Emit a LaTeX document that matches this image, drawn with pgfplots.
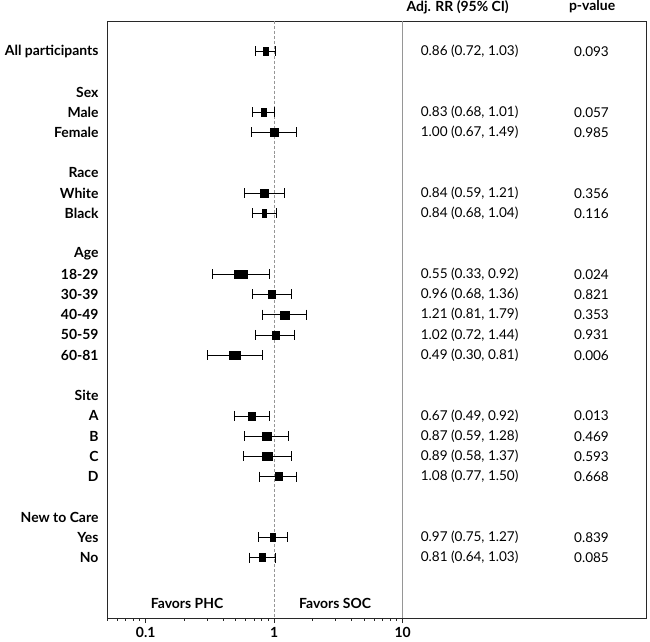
\documentclass[border=0pt]{standalone}
\usepackage{fontspec}
\setmainfont{Lato}
\usepackage{pgfplots}
\pgfplotsset{compat=1.18}
\usepackage{pgfplotstable}

\pgfplotstableread{
k est lo hi w
0 0.86 0.72 1.03 4.3
3 0.83 0.68 1.01 4.3
4 1.00 0.67 1.49 7.3
7 0.84 0.59 1.21 8.3
8 0.84 0.68 1.04 4.3
11 0.55 0.33 0.92 12.3
12 0.96 0.68 1.36 7.3
13 1.21 0.81 1.79 9.0
14 1.02 0.72 1.44 7.0
15 0.49 0.30 0.81 11.3
18 0.67 0.49 0.92 7.0
19 0.87 0.59 1.28 8.7
20 0.89 0.58 1.37 10.0
21 1.08 0.77 1.50 7.3
24 0.97 0.75 1.27 5.3
25 0.81 0.64 1.03 6.0
}\forestdata

\definecolor{refgray}{RGB}{150,150,150}
\definecolor{framecol}{RGB}{40,40,40}

\newcommand{\rg}{\fontsize{13.6}{16}\selectfont}
\newcommand{\bd}{\fontsize{14}{16}\selectfont\bfseries}
\newcommand{\row}[3]{%
  \node[anchor=west, inner sep=0pt, font=\rg] at (axis cs:13.8,#1) {#2};
  \node[inner sep=0pt, font=\rg] at (axis cs:295,#1) {#3};}

\begin{document}
\begin{tikzpicture}[font=\rg]
\useasboundingbox (-107bp,-24bp) rectangle (543bp,618bp);
\begin{axis}[
  scale only axis, width=539bp, height=597bp,
  at={(0,0)}, anchor=south west,
  xmode=log, xmin=0.05, xmax=783,
  ymin=-1.506, ymax=27.98, y dir=reverse,
  clip=false,
  unbounded coords=jump,
  axis line style={framecol, line width=0.8pt},
  xtick={0.1,1,10}, xticklabels={0.1,1,10},
  minor xtick={0.05,0.06,0.07,0.08,0.09,0.2,0.3,0.4,0.5,0.6,0.7,0.8,0.9,2,3,4,5,6,7,8,9},
  tick align=outside, xtick pos=bottom,
  major tick length=5bp, minor tick length=2.5bp,
  tick style={framecol, line width=0.7pt},
  xticklabel style={font=\bd, inner sep=1bp, anchor=north, yshift=-3bp},
  ytick={0,2,3,4,6,7,8,10,11,12,13,14,15,17,18,19,20,21,23,24,25},
  yticklabels={All participants,Sex,Male,Female,Race,White,Black,Age,18-29,30-39,40-49,50-59,60-81,Site,A,B,C,D,New to Care,Yes,No},
  ytick style={draw=none},
  yticklabel style={font=\bd},
  /pgf/number format/assume math mode=true,
]
\addplot[refgray, densely dashed, line width=0.8pt, forget plot] coordinates {(1,-1.506) (1,27.98)};
\addplot[refgray, line width=0.8pt, forget plot] coordinates {(10,-1.506) (10,27.98)};

% confidence intervals (lower, upper) with end caps
\addplot[black, line width=0.7pt, mark=|, mark size=5bp, mark options={solid, line width=0.7pt}] coordinates {
(0.72,0) (1.03,0) (nan,nan)
(0.68,3) (1.01,3) (nan,nan)
(0.67,4) (1.49,4) (nan,nan)
(0.59,7) (1.21,7) (nan,nan)
(0.68,8) (1.04,8) (nan,nan)
(0.33,11) (0.92,11) (nan,nan)
(0.68,12) (1.36,12) (nan,nan)
(0.81,13) (1.79,13) (nan,nan)
(0.72,14) (1.44,14) (nan,nan)
(0.30,15) (0.81,15) (nan,nan)
(0.49,18) (0.92,18) (nan,nan)
(0.59,19) (1.28,19) (nan,nan)
(0.58,20) (1.37,20) (nan,nan)
(0.77,21) (1.50,21) (nan,nan)
(0.75,24) (1.27,24) (nan,nan)
(0.64,25) (1.03,25)
};

\addplot[scatter, only marks, mark=square*, mark size=4bp,
  mark options={fill=black, draw=none},
  visualization depends on={\thisrow{w}/8 \as \wid},
  scatter/@pre marker code/.code={\pgfscope\pgftransformxscale{\wid}},
  scatter/@post marker code/.code={\endpgfscope}]
  table[x=est, y=k] {\forestdata};

% header
\node[font=\bd] at (axis cs:26.8,-2.2) {Adj. RR (95\% CI)};
\node[font=\bd] at (axis cs:298,-2.2) {p-value};
% favors
\node[font=\bd] at (axis cs:0.21,27.28) {Favors PHC};
\node[font=\bd] at (axis cs:2.98,27.28) {Favors SOC};
% values
\row{0}{0.86 (0.72, 1.03)}{0.093}
\row{3}{0.83 (0.68, 1.01)}{0.057}
\row{4}{1.00 (0.67, 1.49)}{0.985}
\row{7}{0.84 (0.59, 1.21)}{0.356}
\row{8}{0.84 (0.68, 1.04)}{0.116}
\row{11}{0.55 (0.33, 0.92)}{0.024}
\row{12}{0.96 (0.68, 1.36)}{0.821}
\row{13}{1.21 (0.81, 1.79)}{0.353}
\row{14}{1.02 (0.72, 1.44)}{0.931}
\row{15}{0.49 (0.30, 0.81)}{0.006}
\row{18}{0.67 (0.49, 0.92)}{0.013}
\row{19}{0.87 (0.59, 1.28)}{0.469}
\row{20}{0.89 (0.58, 1.37)}{0.593}
\row{21}{1.08 (0.77, 1.50)}{0.668}
\row{24}{0.97 (0.75, 1.27)}{0.839}
\row{25}{0.81 (0.64, 1.03)}{0.085}
\end{axis}
\end{tikzpicture}
\end{document}
